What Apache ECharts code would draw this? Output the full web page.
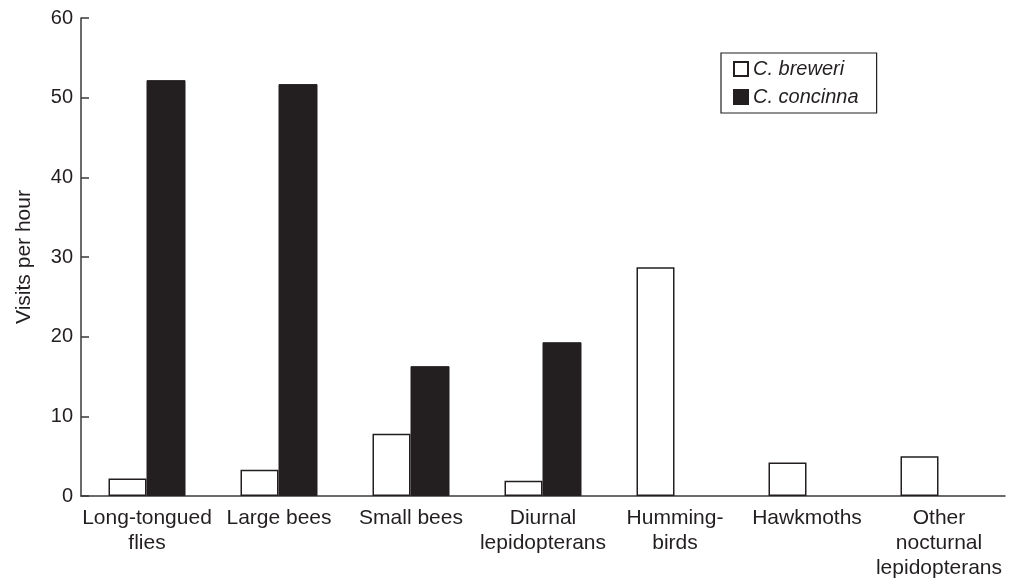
<!DOCTYPE html>
<html><head><meta charset="utf-8">
<script src="https://cdn.jsdelivr.net/npm/echarts@6/dist/echarts.min.js"></script>
<style>html,body{margin:0;padding:0;background:#fff}#c{width:1009px;height:582px}</style>
</head><body><div id="c"></div>
<script>
const categories = ['Long-tongued\nflies', 'Large bees', 'Small bees', 'Diurnal\nlepidopterans', 'Humming-\nbirds', 'Hawkmoths', 'Other\nnocturnal\nlepidopterans'];
const breweri = [2.2, 3.3, 7.8, 1.9, 28.7, 4.2, 5.0];
const concinna = [52.2, 51.7, 16.3, 19.3, '-', '-', '-'];
const yTicks = { min: 0, max: 60, interval: 10 };
const seriesNames = ['C. breweri', 'C. concinna'];

const font = 'Liberation Sans, Arial, Helvetica, sans-serif';
const txt = '#231f20';
const axisCol = '#3a3a3a';
const chart = echarts.init(document.getElementById('c'), null, { renderer: 'canvas' });
chart.setOption({
  animation: false,
  textStyle: { fontFamily: font, color: txt },
  grid: { left: 81, right: 4, top: 18, bottom: 86, containLabel: false },
  legend: {
    orient: 'vertical', left: 721, top: 53,
    padding: [6, 18, 6, 12],
    icon: 'rect',
    itemWidth: 14, itemHeight: 14, itemGap: 8, itemTextGap: 11,
    borderColor: '#231f20', borderWidth: 1.2,
    textStyle: { fontFamily: font, fontSize: 20, fontStyle: 'italic', color: txt, lineHeight: 20 },
    data: seriesNames
  },
  xAxis: {
    type: 'category', data: categories,
    axisLine: { lineStyle: { color: axisCol, width: 1.5 } },
    axisTick: { inside: true, length: 8, alignWithLabel: false, lineStyle: { color: axisCol, width: 1.5 } },
    axisLabel: { interval: 0, fontSize: 21, color: txt, fontFamily: font, margin: 10, lineHeight: 25 }
  },
  yAxis: {
    type: 'value', min: yTicks.min, max: yTicks.max, interval: yTicks.interval,
    name: 'Visits per hour', nameLocation: 'middle', nameGap: 46, nameRotate: 90,
    nameTextStyle: { fontSize: 21, color: txt, fontFamily: font },
    splitLine: { show: false },
    axisLine: { show: true, lineStyle: { color: axisCol, width: 1.5 } },
    axisTick: { show: true, inside: true, length: 8, lineStyle: { color: axisCol, width: 1.5 } },
    axisLabel: { fontSize: 20, color: txt, fontFamily: font, margin: 8 }
  },
  series: [
    { name: seriesNames[0], type: 'bar', data: breweri, barWidth: 38, barGap: '0%',
      itemStyle: { color: '#ffffff', borderColor: '#231f20', borderWidth: 1.5 } },
    { name: seriesNames[1], type: 'bar', data: concinna, barWidth: 39, barGap: '0%',
      itemStyle: { color: '#231f20', borderColor: '#231f20', borderWidth: 1 } }
  ]
});
</script></body></html>
